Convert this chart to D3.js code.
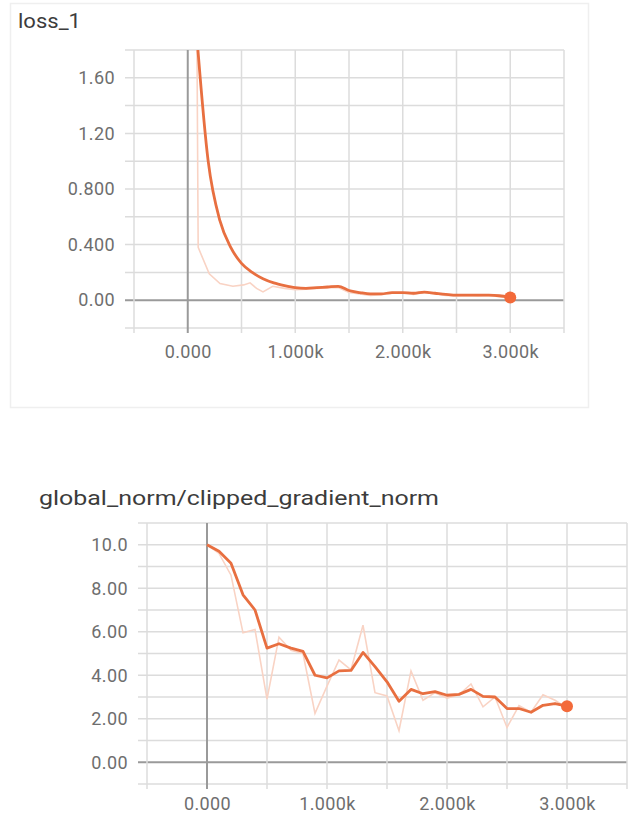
<!DOCTYPE html>
<html>
<head>
<meta charset="utf-8">
<script src="https://cdn.jsdelivr.net/npm/d3@7"></script>
<style>
  body { margin: 0; background: #fff; }
  svg text { font-family: Roboto, "Liberation Sans", sans-serif; }
</style>
</head>
<body>
<svg id="chart" width="635" height="817"></svg>
<script>
// ---- loss_1 ----
var lossSmoothSteps = [80, 190, 300, 400, 500, 600, 700, 800, 900, 1000, 1100, 1200, 1300, 1400, 1500,
                       1600, 1700, 1800, 1900, 2000, 2100, 2200, 2300, 2400, 2500, 2600, 2700, 2800, 2900, 3000];
var lossSmooth = [1.94, 1.0, 0.57, 0.38, 0.265, 0.2, 0.155, 0.125, 0.105, 0.09, 0.085, 0.09, 0.095, 0.10, 0.07,
                  0.055, 0.045, 0.045, 0.055, 0.055, 0.05, 0.058, 0.05, 0.042, 0.036, 0.036, 0.036, 0.036, 0.032, 0.02];
var lossRawSteps = [80, 97, 200, 300, 420, 520, 580, 640, 700, 790, 900, 1000, 1100, 1200, 1300, 1400, 1500,
                    1600, 1700, 1800, 1900, 2000, 2100, 2200, 2300, 2400, 2500, 2600, 2700, 2800, 2900, 3000];
var lossRaw = [2.6, 0.38, 0.19, 0.12, 0.10, 0.11, 0.125, 0.085, 0.06, 0.10, 0.085, 0.075, 0.08, 0.085, 0.09, 0.092, 0.055,
               0.045, 0.035, 0.04, 0.05, 0.052, 0.042, 0.055, 0.045, 0.035, 0.03, 0.034, 0.03, 0.034, 0.026, 0.016];
var lossYTicks = [0, 0.4, 0.8, 1.2, 1.6];
var lossYLabels = ["0.00", "0.400", "0.800", "1.20", "1.60"];

// ---- global_norm/clipped_gradient_norm ----
var normSteps = [0, 100, 200, 300, 400, 500, 600, 700, 800, 900, 1000, 1100, 1200, 1300, 1400, 1500,
                 1600, 1700, 1800, 1900, 2000, 2100, 2200, 2300, 2400, 2500, 2600, 2700, 2800, 2900, 3000];
var normSmooth = [10.0, 9.7, 9.15, 7.7, 7.0, 5.25, 5.45, 5.25, 5.1, 4.0, 3.88, 4.2, 4.22, 5.05, 4.4, 3.7,
                  2.8, 3.35, 3.15, 3.25, 3.08, 3.12, 3.35, 3.03, 3.0, 2.47, 2.47, 2.3, 2.62, 2.7, 2.58];
var normRaw = [10.0, 9.6, 8.6, 5.95, 6.1, 2.9, 5.75, 5.15, 5.0, 2.25, 3.5, 4.7, 4.25, 6.3, 3.2, 3.05,
               1.45, 4.2, 2.85, 3.2, 2.95, 3.1, 3.6, 2.55, 3.0, 1.6, 2.6, 2.3, 3.1, 2.85, 2.5];
var normYTicks = [0, 2, 4, 6, 8, 10];
var normYLabels = ["0.00", "2.00", "4.00", "6.00", "8.00", "10.0"];

var xTicks = [0, 1000, 2000, 3000];
var xLabels = ["0.000", "1.000k", "2.000k", "3.000k"];
var xGrid = [-500, 0, 500, 1000, 1500, 2000, 2500, 3000, 3500];

const svg = d3.select("#chart");

// faint card round the first chart
svg.append("rect").attr("x", 10.5).attr("y", 3.5).attr("width", 578).attr("height", 404)
   .attr("fill", "none").attr("stroke", "#efefef").attr("stroke-width", 1.5);

function zip(a, b) { return a.map((s, i) => ({step: s, value: b[i]})); }

function panel(o) {
  const x = d3.scaleLinear().domain([-500, 3500]).range(o.xr),
        y = d3.scaleLinear().domain(o.yd).range(o.yr),
        g = svg.append("g");

  g.append("text").attr("x", o.tx).attr("y", o.ty).text(o.title)
   .attr("textLength", o.tw).attr("lengthAdjust", "spacingAndGlyphs")
   .style("font-size", "21px").style("fill", "#3c3c3c");

  // grid
  g.selectAll(".hg").data(o.yGrid).enter().append("line")
   .attr("x1", o.xr[0] - 9).attr("x2", o.xr[1])
   .attr("y1", d => y(d)).attr("y2", d => y(d))
   .attr("stroke", d => d === 0 ? "#9a9a9a" : "#dcdcdc")
   .attr("stroke-width", d => d === 0 ? 2 : 1.5);
  g.selectAll(".vg").data(xGrid).enter().append("line")
   .attr("y1", o.yr[1]).attr("y2", o.yr[0] + 5)
   .attr("x1", d => x(d)).attr("x2", d => x(d))
   .attr("stroke", d => d === 0 ? "#9a9a9a" : "#dcdcdc")
   .attr("stroke-width", d => d === 0 ? 2 : 1.5);

  // axes (labels only)
  const ya = g.append("g").attr("transform", `translate(${o.xr[0] - 16},0)`)
    .call(d3.axisLeft(y).tickValues(o.yTicks).tickSize(0).tickFormat((d, i) => o.yLabels[i]));
  const xa = g.append("g").attr("transform", `translate(0,${o.yr[0] + o.xlOff})`)
    .call(d3.axisBottom(x).tickValues(xTicks).tickSize(0).tickFormat((d, i) => xLabels[i]));
  [ya, xa].forEach(a => {
    a.select(".domain").remove();
    a.selectAll("text").style("font-size", "18px").style("letter-spacing", "0.4px")
     .style("fill", "#6e6e6e").attr("font-family", null);
  });

  // lines
  g.append("clipPath").attr("id", o.id).append("rect")
   .attr("x", o.xr[0]).attr("y", o.yr[1]).attr("width", o.xr[1] - o.xr[0]).attr("height", o.yr[0] - o.yr[1]);
  const line = d3.line().x(d => x(d.step)).y(d => y(d.value));
  const lg = g.append("g").attr("clip-path", `url(#${o.id})`);
  lg.append("path").datum(o.raw).attr("d", line)
    .attr("fill", "none").attr("stroke", "#f9d3c4").attr("stroke-width", 1.6);
  lg.append("path").datum(o.smooth).attr("d", line.curve(o.curve))
    .attr("fill", "none").attr("stroke", "#e86f40").attr("stroke-width", 2.8).attr("stroke-linejoin", "round");
  const last = o.smooth[o.smooth.length - 1];
  g.append("circle").attr("cx", x(last.step)).attr("cy", y(last.value)).attr("r", 6).attr("fill", "#f36a3a");
}

panel({
  id: "clipA", title: "loss_1", tx: 18, ty: 28, tw: 63, xlOff: 14, curve: d3.curveMonotoneX,
  xr: [134, 564], yr: [328, 50], yd: [-0.2, 1.8],
  yGrid: [-0.2, 0, 0.2, 0.4, 0.6, 0.8, 1.0, 1.2, 1.4, 1.6, 1.8].map(v => +v.toFixed(1)),
  yTicks: lossYTicks, yLabels: lossYLabels,
  smooth: zip(lossSmoothSteps, lossSmooth), raw: zip(lossRawSteps, lossRaw)
});

panel({
  id: "clipB", title: "global_norm/clipped_gradient_norm", tx: 39, ty: 505, tw: 400, xlOff: 10, curve: d3.curveLinear,
  xr: [147, 627], yr: [784, 523], yd: [-1, 11],
  yGrid: d3.range(-1, 12),
  yTicks: normYTicks, yLabels: normYLabels,
  smooth: zip(normSteps, normSmooth), raw: zip(normSteps, normRaw)
});
</script>
</body>
</html>
